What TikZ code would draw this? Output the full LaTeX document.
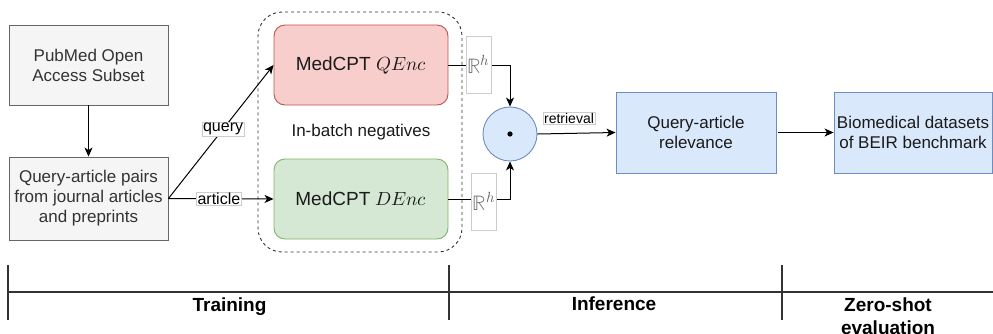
\documentclass[tikz,border=0pt]{standalone}
\usepackage{fontspec}
\usepackage{unicode-math}
\setmainfont{Liberation Sans}
\setmathfont{Latin Modern Math}
\usetikzlibrary{arrows.meta,calc}
\definecolor{fillgray}{HTML}{F5F5F5}
\definecolor{linegray}{HTML}{666666}
\definecolor{txtgray}{HTML}{333333}
\definecolor{redfill}{HTML}{F8CECC}
\definecolor{redline}{HTML}{B85450}
\definecolor{greenfill}{HTML}{D5E8D4}
\definecolor{greenline}{HTML}{82B366}
\definecolor{bluefill}{HTML}{DAE8FC}
\definecolor{blueline}{HTML}{6C8EBF}
\definecolor{lblgray}{HTML}{CCCCCC}
\definecolor{dark}{HTML}{1A1A1A}
\newcommand\myfs[2]{\fontsize{#1}{#2}\selectfont}
\begin{document}
\begin{tikzpicture}[x=1pt,y=-1pt,
  graybox/.style={draw=linegray, fill=fillgray, text=txtgray, minimum width=159pt, inner sep=0pt, font=\myfs{17}{20}, align=center, line width=0.9pt},
  encbox/.style={rounded corners=11pt, minimum width=174pt, minimum height=80pt, inner sep=0pt, font=\myfs{19}{23}, text=dark, line width=0.9pt},
  bluebox/.style={draw=blueline, fill=bluefill, text=dark, minimum width=160pt, minimum height=81pt, inner sep=0pt, font=\myfs{17}{20}, align=center, line width=0.9pt},
  conn/.style={draw=black, line width=1pt},
  arr/.style={conn, -{Stealth[length=9pt,width=8pt,inset=2.5pt]}},
  lbl/.style={fill=white, draw=lblgray, line width=0.5pt, inner sep=1pt, font=\myfs{16}{18}, text=black},
  rhbox/.style={fill=white, draw=lblgray, line width=0.5pt, inner sep=0pt, minimum width=25pt, minimum height=57pt, font=\myfs{21}{23}, text=linegray},
  phase/.style={font=\bfseries\myfs{19}{23}, align=center, inner sep=0pt, text=black},
  tl/.style={draw=txtgray, line width=1.1pt}
]
\useasboundingbox (0,0) rectangle (993,333);

% container
\node[draw=txtgray, dashed, line width=0.9pt, rounded corners=24pt, minimum width=204pt, minimum height=240pt, inner sep=0pt] (grp) at (360,132) {};

% boxes
\node[graybox, minimum height=80pt] (pub) at (88.5,65) {PubMed Open\\Access Subset};
\node[graybox, minimum height=83pt] (qa) at (88.5,198.5) {Query-article pairs\\from journal articles\\and preprints};
\node[encbox, fill=redfill, draw=redline] (qenc) at (361,65) {MedCPT $QEnc$};
\node[encbox, fill=greenfill, draw=greenline] (denc) at (361,199) {MedCPT $DEnc$};
\node[font=\myfs{17}{20}, text=dark, inner sep=0pt] (neg) at (361,132) {In-batch negatives};
\node[circle, draw=blueline, fill=bluefill, minimum size=54pt, inner sep=0pt, line width=0.9pt] (dot) at (510,134) {};
\fill (dot.center) circle (2.6pt);
\node[bluebox] (qar) at (696,132.5) {Query-article\\relevance};
\node[bluebox, minimum width=158pt] (bio) at (913,132.5) {Biomedical datasets\\of BEIR benchmark};

% connectors
\draw[arr] (pub) -- (qa);
\draw[arr] (qa.east) -- node[lbl, pos=0.52] (lq) {query} (qenc.west);
\draw[arr] (qa.east) -- node[lbl, pos=0.48] (la) {article} (denc.west);
\draw[arr] (qenc.east) -| (dot.north);
\draw[arr] (denc.east) -| (dot.south);
\draw[arr] (dot.east) -- (qar.west);
\node[lbl, font=\myfs{14}{16}] (ret) at (569,118.5) {retrieval};
\draw[arr] ([xshift=2pt]qar.east) -- (bio.west);

\node[rhbox] (rh1) at (478.5,64.5) {$\mathbb{R}^h$};
\node[rhbox] (rh2) at (484,201.5) {$\mathbb{R}^h$};

% timeline
\coordinate (t0) at (8,292);
\coordinate (t3) at (993,292);
\draw[tl] (t0) -- (t3);
\draw[tl] (8,265) -- (8,320);
\draw[tl] (449,265) -- (449,320);
\draw[tl] (782,265) -- (782,320);
\node[phase, anchor=north] (trn) at (229.5,297.5) {Training};
\node[phase, anchor=north] (inf) at (614,297) {Inference};
\node[phase, anchor=north] (zse) at (888,297.5) {Zero-shot\\evaluation};
\end{tikzpicture}
\end{document}
